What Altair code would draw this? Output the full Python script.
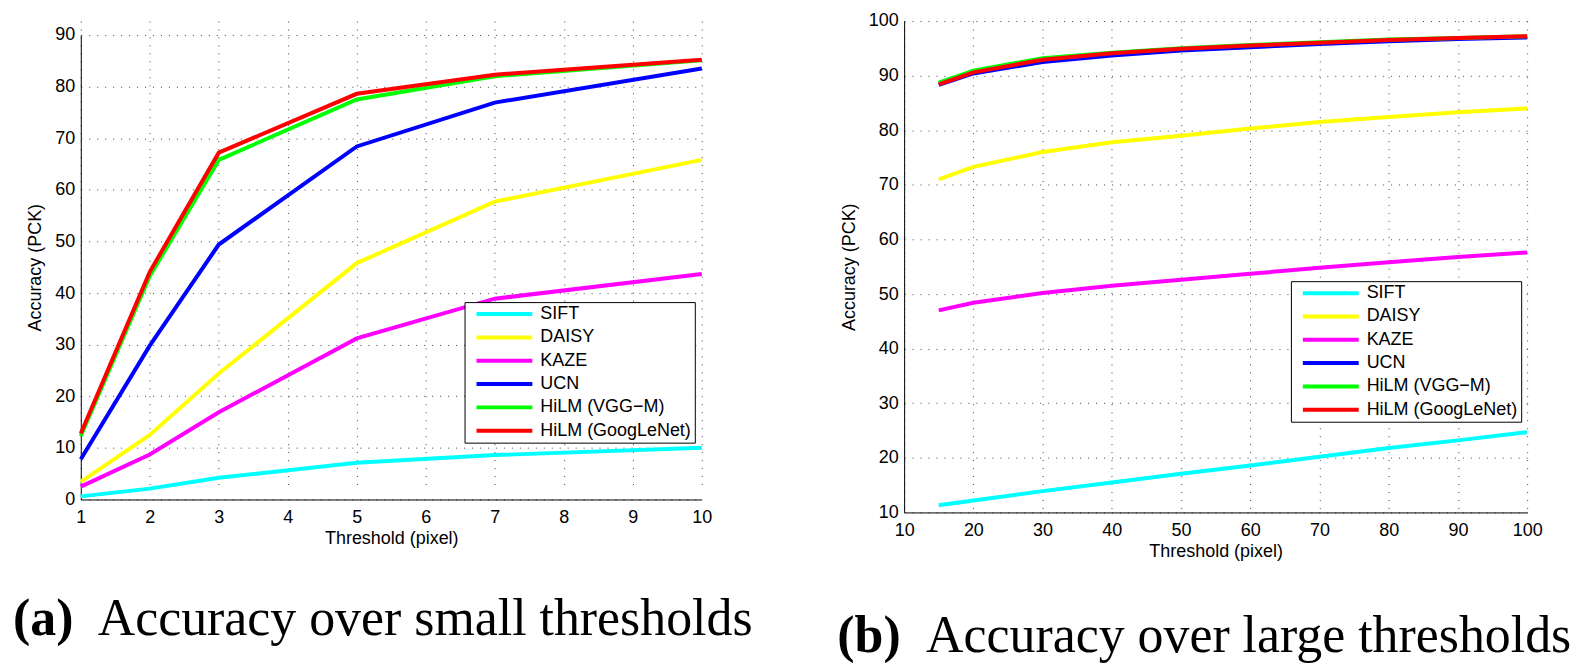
import altair as alt
import pandas as pd

# ---- data ----
series_names = ["SIFT", "DAISY", "KAZE", "UCN", "HiLM (VGG\u2212M)", "HiLM (GoogLeNet)"]
series_colors = ["#00FFFF", "#FFFF00", "#FF00FF", "#0000FF", "#00FF00", "#FF0000"]

small_x = [1, 2, 3, 5, 7, 10]
sift_small = [0.6, 2.1, 4.2, 7.1, 8.6, 10.0]
daisy_small = [3.4, 12.5, 24.4, 45.8, 57.7, 65.8]
kaze_small = [2.5, 8.7, 16.9, 31.2, 38.9, 43.7]
ucn_small = [7.8, 29.8, 49.4, 68.4, 76.9, 83.5]
vgg_small = [12.3, 43.3, 65.8, 77.5, 82.0, 85.1]
goog_small = [12.8, 44.1, 67.2, 78.6, 82.3, 85.2]

large_x = [15, 20, 30, 40, 50, 60, 70, 80, 90, 100]
sift_large = [11.3, 12.2, 13.9, 15.5, 17.1, 18.6, 20.2, 21.8, 23.2, 24.7]
daisy_large = [71.0, 73.3, 76.0, 77.8, 79.0, 80.3, 81.5, 82.4, 83.3, 84.0]
kaze_large = [47.0, 48.4, 50.2, 51.5, 52.6, 53.7, 54.8, 55.8, 56.8, 57.6]
ucn_large = [88.3, 90.4, 92.5, 93.7, 94.6, 95.2, 95.8, 96.3, 96.7, 97.0]
vgg_large = [88.7, 90.9, 93.2, 94.2, 95.0, 95.6, 96.1, 96.6, 96.9, 97.2]
goog_large = [88.4, 90.6, 92.9, 94.1, 94.9, 95.5, 96.0, 96.5, 96.9, 97.2]

small_xticks = [1, 2, 3, 4, 5, 6, 7, 8, 9, 10]
small_yticks = [0, 10, 20, 30, 40, 50, 60, 70, 80, 90]
large_xticks = [10, 20, 30, 40, 50, 60, 70, 80, 90, 100]
large_yticks = [10, 20, 30, 40, 50, 60, 70, 80, 90, 100]

x_title = "Threshold (pixel)"
y_title = "Accuracy (PCK)"
cap_a = ["(a)", "Accuracy over small thresholds"]
cap_b = ["(b)", "Accuracy over large thresholds"]

LABEL_FONT = "Liberation Sans"
SERIF = "Liberation Serif"


def panel(xs, vals, xdom, ydom, yrange, xticks, yticks, w, h, leg_xy, anchor, caps, cap_pos):
    color = alt.Color(
        "series:N",
        scale=alt.Scale(domain=series_names, range=series_colors),
        legend=alt.Legend(
            title=None, orient="none", legendX=leg_xy[0], legendY=leg_xy[1],
            symbolType="M-4,0H4", symbolSize=196, symbolStrokeWidth=4,
            labelFont=LABEL_FONT, labelFontSize=18, labelColor="black",
            labelOffset=27, symbolOffset=28, padding=3, rowPadding=5.4,
            strokeColor="black", fillColor="white",
        ),
    )
    xenc = alt.X("x:Q", scale=alt.Scale(domain=xdom, nice=False, zero=False),
                 axis=alt.Axis(values=xticks, title=x_title, format="d"))
    yenc = alt.Y("y:Q", scale=alt.Scale(domain=ydom, range=yrange, nice=False, zero=False),
                 axis=alt.Axis(values=yticks, title=y_title, format="d"))
    layers = []
    for name, v in zip(series_names, vals):
        df = pd.DataFrame({"x": xs, "y": v, "series": name})
        layers.append(
            alt.Chart(df).mark_line(strokeWidth=4).encode(x=xenc, y=yenc, color=color)
        )
    anc = alt.Chart(pd.DataFrame({"a": [0]})).mark_rule(color="white", strokeWidth=1).encode(
        x=alt.value(anchor[0]), x2=alt.value(anchor[1]), y=alt.value(anchor[2])
    )
    t1 = alt.Chart(pd.DataFrame({"t": [caps[0]]})).mark_text(
        font=SERIF, fontSize=52, fontWeight="bold", align="left", baseline="alphabetic",
        color="black"
    ).encode(x=alt.value(cap_pos[0]), y=alt.value(cap_pos[2]), text="t:N")
    t2 = alt.Chart(pd.DataFrame({"t": [caps[1]]})).mark_text(
        font=SERIF, fontSize=52, align="left", baseline="alphabetic", color="black"
    ).encode(x=alt.value(cap_pos[1]), y=alt.value(cap_pos[2]), text="t:N")
    return alt.layer(*layers, anc, t1, t2).properties(width=w, height=h)


# both plot areas share the same top (page y=19); the left plot's data range
# starts lower (y=33) via its y-scale range.
left = panel(small_x, [sift_small, daisy_small, kaze_small, ucn_small, vgg_small, goog_small],
             [1, 10], [0, 90], [480, 14], small_xticks, small_yticks, 623, 480,
             (385, 282), (-72, 690, -11), cap_a, (-68, 17, 616))
right = panel(large_x, [sift_large, daisy_large, kaze_large, ucn_large, vgg_large, goog_large],
              [10, 100], [10, 100], [493, 0], large_xticks, large_yticks, 625, 493,
              (388, 261), (-67, -66, -11), cap_b, (-67, 22, 633))

chart = (
    alt.hconcat(left, right, spacing=67)
    .resolve_scale(color="independent", x="independent", y="independent")
    .resolve_legend(color="independent")
    .properties(padding=0, background="white")
    .configure_view(strokeWidth=0)
    .configure_axis(
        labelFont=LABEL_FONT, labelFontSize=18, labelColor="black",
        titleFont=LABEL_FONT, titleFontSize=18, titleFontWeight="normal", titleColor="black",
        domainColor="black", domainWidth=1,
        grid=True, gridColor="#444444", gridDash=[1, 7], gridWidth=1,
        ticks=False, tickSize=0, labelFlush=False, labelOverlap=False,
    )
    .configure_axisX(labelPadding=9, titlePadding=3)
    .configure_axisY(labelPadding=6, titlePadding=10)
)

chart.save("out.html", embed_options={"renderer": "svg", "actions": False})
